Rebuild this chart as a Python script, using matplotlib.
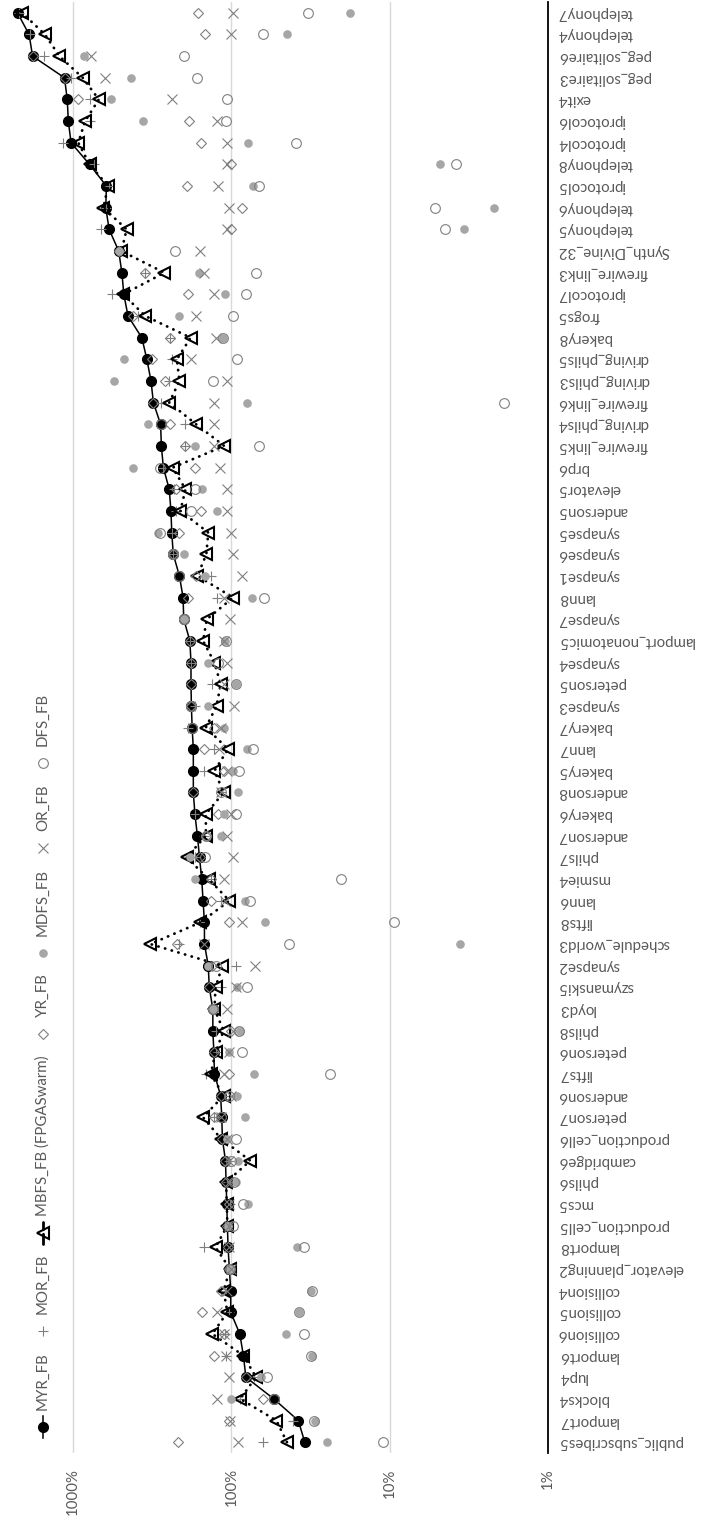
import matplotlib
matplotlib.use("Agg")
import matplotlib.pyplot as plt
from matplotlib.lines import Line2D
from matplotlib.ticker import NullLocator

plt.rcParams['font.family'] = ['Lato', 'DejaVu Sans']

# categories, bottom to top
names = ["public_subscribes5", "lamport7", "blocks4", "lup4", "lamport6", "collision6",
         "collision5", "collision4", "elevator_planning2", "lamport8", "production_cell5",
         "mcs5", "phils6", "cambridge6", "production_cell6", "peterson7", "anderson6",
         "lifts7", "peterson6", "phils8", "loyd3", "szymanski5", "synapse2",
         "schedule_world3", "lifts8", "lann6", "msmie4", "phils7", "anderson7", "bakery6",
         "anderson8", "bakery5", "lann7", "bakery7", "synapse3", "peterson5", "synapse4",
         "lamport_nonatomic5", "synapse7", "lann8", "synapse1", "synapse6", "synapse5",
         "anderson5", "elevator5", "brp6", "firewire_link5", "driving_phils4",
         "firewire_link6", "driving_phils3", "driving_phils5", "bakery8", "frogs5",
         "iprotocol7", "firewire_link3", "Synth_Divine_32", "telephony5", "telephony6",
         "iprotocol5", "telephony8", "iprotocol4", "iprotocol6", "exit4", "peg_solitaire3",
         "peg_solitaire6", "telephony4", "telephony7"]

# values in percent
myr = [34.4, 37.8, 54, 81, 84, 88.5, 101, 101, 103, 105, 106, 107, 108, 109, 114, 115, 117,
       128, 129, 131, 131, 138, 140, 148, 148, 151, 154, 159, 164, 170, 174, 174, 174, 177,
       179, 180, 180, 183, 200, 202, 213, 233, 238, 241, 247, 269, 277, 280, 311, 322, 342,
       368, 450, 478, 492, 515, 592, 622, 616, 787, 1030, 1072, 1089, 1133, 1803, 1897, 2245]
mor = [63.5, 40.7, 88, 72, 108, 110, 103, 117, 102, 150, 106, 102, 106, 104, 110, 129, 104,
       145, 125, 125, 130, 117, 94, 215, 157, 117, 135, 170, 150, 170, 117, 150, 129, 187,
       170, 132, 180, 183, 200, 124, 134, 233, 238, 225, 230, 269, 195, 195, 280, 247, 237,
       243, 387, 571, 350, 500, 670, 622, 590, 741, 1150, 779, 787, 1025, 1529, 1860, 2200]
mbfs = [44.6, 52, 88, 70, 84, 132, 106, 112, 102, 126, 106, 107, 108, 76, 116, 151, 112,
        135, 126, 112, 128, 126, 114, 325, 157, 103, 139, 192, 145, 145, 112, 128, 105, 145,
        124, 117, 128, 151, 143, 97.5, 164, 144, 140, 210, 195, 235, 111, 167, 247, 213, 221,
        181, 350, 482, 265, 495, 459, 644, 601, 787, 927, 840, 688, 869, 1221, 1506, 2100]
yr = [217, 104, 63, 81, 129, 112, 154, 117, 103, 105, 106, 104, 108, 109, 114, 129, 117,
      104, 129, 101, 131, 138, 132, 221, 103, 134, 135, 159, 144, 122, 174, 111, 148, 128,
      179, 180, 180, 183, 200, 187, 167, 233, 215, 155, 225, 171, 195, 244, 311, 262, 317,
      243, 417, 187, 350, 515, 100, 86, 192, 100, 155, 185, 927, 1133, 1803, 146, 163]
mdfs = [25, 29.7, 101, 65, 31, 45, 37.5, 31.5, 102, 38.6, 105, 78, 93, 91, 106, 81.5, 92,
        72, 104, 88, 131, 92, 140, 3.6, 61, 81.5, 170, 183, 116, 111, 91, 98, 80, 111,
        141, 93, 141, 110, 200, 74, 146, 200, 290, 123, 154, 417, 170, 337, 80, 550, 480,
        113, 213, 109, 161, 515, 3.4, 2.2, 73, 4.8, 78, 361, 574, 430, 857, 44.6, 17.7]
orr = [90.5, 102, 123, 104, 108, 111, 123, 106, 101, 103, 103, 104, 104, 104, 106, 116, 101,
       111, 103, 98, 106, 94, 71, 148, 86, 110, 112, 98, 106, 101, 117, 106, 120, 117,
       96, 111, 106, 111, 102, 111, 86, 98, 100, 106, 107, 118, 128, 128, 128, 106, 180,
       126, 168, 128, 148, 159, 107, 103, 121, 106, 107, 124, 236, 631, 771, 100, 97]
dfs = [11.1, 30.2, 54, 60, 31.5, 35, 37.5, 31, 102, 35, 98, 84, 96, 100, 93, 116, 104,
       23.8, 86, 89, 131, 80, 125, 43.5, 9.4, 76, 20.3, 146, 145, 94, 117, 90, 73, 177,
       179, 93, 122, 108, 200, 62.5, 213, 233, 284, 181, 170, 284, 67, 280, 1.9, 131, 92,
       113, 98, 81, 70, 228, 4.5, 5.2, 67, 3.8, 39, 108, 106, 164, 200, 63, 33]

W, H = 713, 1525
fig = plt.figure(figsize=(W / 100, H / 100), dpi=100)
ax = fig.add_axes([0, 72 / H, 548 / W, 1451 / H])

pos = list(range(1, len(names) + 1))
txt = '#595959'
gray = '#7f7f7f'

ax.plot(myr, pos, color='k', lw=1.1, marker='o', ms=7, label='MYR_FB')
ax.plot(mor, pos, ls='none', marker='+', ms=7.5, mew=0.8, color=gray, label='MOR_FB')
ax.plot(mbfs, pos, color='k', lw=2, ls=(0, (0.1, 2.4)), dash_capstyle='round',
        marker='<', ms=8, mfc='none', mec='k', mew=1.5, label='MBFS_FB (FPGASwarm)')
ax.plot(yr, pos, ls='none', marker='D', ms=5, mfc='none', mec=gray, mew=0.8, label='YR_FB')
ax.plot(mdfs, pos, ls='none', marker='o', ms=6.2, color='#a6a6a6', mec='none', label='MDFS_FB')
ax.plot(orr, pos, ls='none', marker='x', ms=7.2, mew=0.8, color=gray, label='OR_FB')
ax.plot(dfs, pos, ls='none', marker='o', ms=7, mfc='none', mec=gray, mew=0.8, label='DFS_FB')

ax.set_xscale('log')
ax.set_xlim(2896, 1)
ax.set_ylim(0.5, len(names) + 0.5)
ax.xaxis.set_minor_locator(NullLocator())
ax.set_xticks([1, 10, 100, 1000])
ax.set_xticklabels(['1%', '10%', '100%', '1000%'], rotation=90, color=txt, fontsize=10.8)
ax.tick_params(axis='x', length=0, pad=11)
ax.grid(axis='x', color='#d9d9d9', lw=1)
ax.set_axisbelow(True)

ax.yaxis.tick_right()
ax.set_yticks(pos)
ax.set_yticklabels(names, rotation=180, va='center', ha='left', color=txt, fontsize=10.8)
ax.tick_params(axis='y', length=0, pad=7)

for s in ['top', 'left', 'bottom']:
    ax.spines[s].set_visible(False)
ax.spines['right'].set_color('k')
ax.spines['right'].set_linewidth(1.3)

# vertical legend along the left edge
fig.canvas.draw()
renderer = fig.canvas.get_renderer()
lx = 43 / W
p = 1427
for line in ax.get_lines():
    y = 1 - p / H
    if line.get_linestyle() not in ('None', 'none', ''):
        fig.add_artist(Line2D([lx, lx], [1 - (p + 11) / H, 1 - (p - 11) / H],
                              transform=fig.transFigure, color='k',
                              lw=line.get_linewidth(), ls=line.get_linestyle(),
                              dash_capstyle='round'))
    fig.add_artist(Line2D([lx], [y], transform=fig.transFigure, ls='none',
                          marker=line.get_marker(), ms=line.get_markersize(),
                          mfc=line.get_markerfacecolor(), mec=line.get_markeredgecolor(),
                          mew=line.get_markeredgewidth()))
    t = fig.text(lx, 1 - (p - 17) / H, line.get_label(), rotation=90, ha='center',
                 va='bottom', color=txt, fontsize=10.8)
    bb = t.get_window_extent(renderer)
    p = p - 17 - bb.height - 21

fig.savefig('out.png', dpi=100)
